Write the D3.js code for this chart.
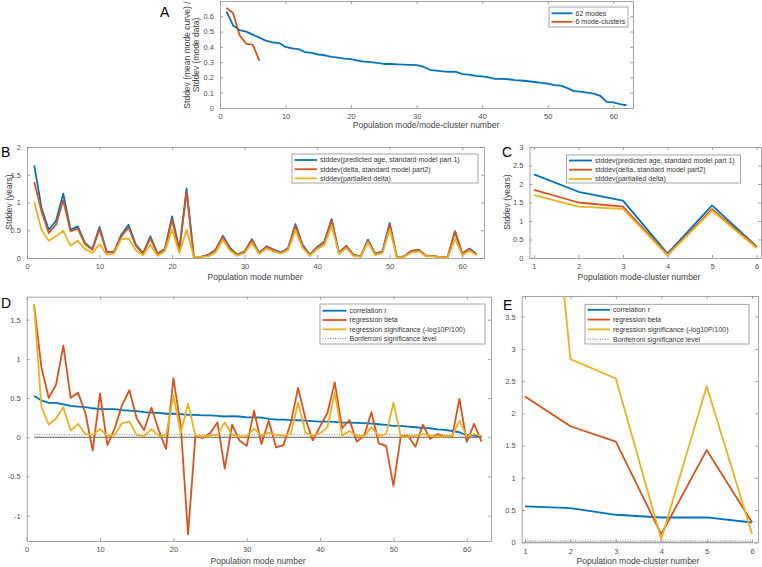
<!DOCTYPE html>
<html>
<head>
<meta charset="utf-8">
<script src="https://cdn.jsdelivr.net/npm/d3@7/dist/d3.min.js"></script>
<style>
body { margin: 0; background: #fff; }
text { font-family: "Liberation Sans", Arial, sans-serif; }
</style>
</head>
<body>
<div id="chart"></div>
<script>
// ---- data ----
// A: stddev ratio
var aModes = [0.63,0.54,0.51,0.50,0.48,0.46,0.44,0.43,0.425,0.40,
  0.39,0.385,0.365,0.36,0.35,0.345,0.335,0.33,0.323,0.32,
  0.31,0.303,0.30,0.295,0.288,0.288,0.286,0.284,0.282,0.28,
  0.27,0.25,0.245,0.24,0.237,0.236,0.222,0.218,0.21,0.207,
  0.2,0.19,0.19,0.188,0.183,0.18,0.175,0.17,0.164,0.16,
  0.15,0.146,0.13,0.11,0.107,0.10,0.094,0.08,0.04,0.037,0.026,0.018];
var aClusters = [0.655,0.62,0.475,0.42,0.415,0.31];

// B: stddev per mode
var bPred = [1.67,0.9,0.51,0.67,1.16,0.51,0.57,0.27,0.16,0.56,
  0.11,0.11,0.42,0.6,0.24,0.09,0.39,0.08,0.16,0.75,
  0.16,1.25,0.02,0.02,0.06,0.15,0.4,0.18,0.06,0.12,
  0.34,0.09,0.21,0.15,0.1,0.18,0.61,0.24,0.06,0.2,
  0.3,0.7,0.09,0.22,0.06,0.03,0.33,0.08,0.12,0.63,
  0.01,0.03,0.13,0.15,0.04,0.04,0.01,0.02,0.48,0.08,0.17,0.07];
var bDelta = [1.37,0.84,0.45,0.6,1.04,0.48,0.53,0.25,0.15,0.52,
  0.1,0.1,0.39,0.55,0.22,0.08,0.36,0.07,0.15,0.69,
  0.13,1.19,0.02,0.02,0.05,0.14,0.38,0.16,0.05,0.11,
  0.32,0.08,0.2,0.14,0.09,0.17,0.58,0.22,0.05,0.19,
  0.28,0.68,0.08,0.21,0.05,0.03,0.31,0.07,0.11,0.6,
  0.01,0.03,0.12,0.14,0.04,0.04,0.01,0.02,0.48,0.07,0.16,0.06];
var bPartial = [1.01,0.51,0.31,0.39,0.49,0.22,0.31,0.16,0.09,0.25,
  0.06,0.08,0.34,0.35,0.14,0.05,0.24,0.04,0.12,0.51,
  0.09,0.51,0.02,0.02,0.03,0.1,0.33,0.13,0.04,0.09,
  0.27,0.07,0.17,0.12,0.08,0.14,0.5,0.18,0.04,0.16,
  0.24,0.58,0.07,0.18,0.04,0.02,0.28,0.05,0.09,0.52,
  0.01,0.02,0.1,0.12,0.03,0.03,0.01,0.01,0.35,0.05,0.13,0.05];

// C: stddev per mode-cluster
var cPred = [2.26,1.79,1.55,0.12,1.42,0.31];
var cDelta = [1.84,1.5,1.39,0.09,1.32,0.3];
var cPartial = [1.7,1.39,1.33,0.07,1.28,0.27];

// D: association per mode
var dCorr = [0.53,0.47,0.44,0.44,0.42,0.40,0.39,0.385,0.37,0.36,
  0.36,0.36,0.345,0.34,0.333,0.32,0.315,0.31,0.30,0.30,
  0.295,0.285,0.285,0.28,0.28,0.272,0.265,0.27,0.265,0.255,
  0.255,0.25,0.235,0.226,0.226,0.22,0.217,0.213,0.205,0.2,
  0.2,0.196,0.187,0.187,0.183,0.18,0.175,0.166,0.158,0.145,
  0.145,0.136,0.128,0.12,0.115,0.102,0.094,0.08,0.064,0.026,0.02,0.008];
var dBeta = [1.69,0.895,0.5,0.67,1.17,0.5,0.57,0.31,-0.17,0.56,
  -0.1,0.115,0.41,0.6,0.24,0.09,0.38,0.09,-0.15,0.75,
  0.15,-1.24,0.02,-0.01,0.05,0.19,-0.4,0.16,-0.04,-0.11,
  0.34,-0.085,0.21,-0.13,-0.1,0.18,0.63,0.24,-0.04,0.14,
  0.31,0.7,0.115,0.22,-0.055,0.02,0.32,-0.077,-0.11,-0.62,
  0.01,0.02,-0.12,0.16,-0.02,0.04,0.01,0.01,0.49,-0.06,0.17,-0.055];
var dSig = [1.7,0.39,0.16,0.24,0.38,0.085,0.17,0.04,0.03,0.105,
  0.02,0.03,0.18,0.2,0.03,0.015,0.105,0.02,0.02,0.53,
  0.05,0.43,0.02,0.01,0.02,0.03,0.19,0.03,0.01,0.015,
  0.11,0.02,0.06,0.03,0.02,0.04,0.44,0.06,0.02,0.05,
  0.13,0.57,0.02,0.08,0.02,0.01,0.13,0.02,0.04,0.44,
  0.01,0.01,0.02,0.04,0.02,0.01,0.01,0.02,0.21,0.01,0.04,0.02];
var dBonf = 0.035;

// E: association per mode-cluster
var eCorr = [0.557,0.53,0.427,0.385,0.385,0.307];
var eBeta = [2.26,1.80,1.56,0.125,1.43,0.31];
var eSig = [9.95,2.84,2.54,0.047,2.42,0.125];
var eBonf = 0.021;

var legA = ["62 modes", "6 mode-clusters"];
var legBC = ["stddev(predicted age, standard model part 1)", "stddev(delta, standard model part2)", "stddev(partialled delta)"];
var legDE = ["correlation r", "regression beta", "regression significance (-log10P/100)", "Bonferroni significance level"];

// ---- drawing ----
var W = 762, H = 567;
var blue = "#0072BD", red = "#D95319", gold = "#EDB120";
var axisCol = "#8c8c8c", tickTxt = "#4d4d4d";

var svg = d3.select("#chart").append("svg")
   .attr("width", W)
   .attr("height", H);
svg.append("rect").attr("width", W).attr("height", H).attr("fill", "#fff");

function panel(p) {
   var x = d3.scaleLinear().domain(p.xd).range([p.l, p.r]);
   var y = d3.scaleLinear().domain(p.yd).range([p.b, p.t]);
   var g = svg.append("g");

   svg.append("clipPath").attr("id", "clip" + p.name)
      .append("rect")
      .attr("x", p.l).attr("y", p.t)
      .attr("width", p.r - p.l).attr("height", p.b - p.t);

   var fmt = function(d) { return String(d); };
   var axes = [
      [d3.axisBottom(x).tickValues(p.xt).tickFormat(fmt), "translate(0," + p.b + ")"],
      [d3.axisTop(x).tickValues(p.xt).tickFormat(""), "translate(0," + p.t + ")"],
      [d3.axisLeft(y).tickValues(p.yt).tickFormat(fmt), "translate(" + p.l + ",0)"],
      [d3.axisRight(y).tickValues(p.yt).tickFormat(""), "translate(" + p.r + ",0)"]
   ];
   axes.forEach(function(a) {
      var ax = g.append("g").attr("transform", a[1])
         .call(a[0].tickSizeInner(-3).tickSizeOuter(0).tickPadding(6));
      ax.select(".domain").attr("stroke", axisCol).attr("stroke-width", 0.8);
      ax.selectAll(".tick line").attr("stroke", axisCol).attr("stroke-width", 0.8);
      ax.selectAll("text").attr("fill", tickTxt).attr("font-size", "7.5px")
         .attr("font-family", "'Liberation Sans', Arial, sans-serif");
   });

   var line = d3.line()
      .x(function(d, i) { return x(i + 1); })
      .y(function(d) { return y(d); });

   var lines = g.append("g").attr("clip-path", "url(#clip" + p.name + ")");
   (p.refs || []).forEach(function(r) {
      lines.append("line")
         .attr("x1", x(r.from)).attr("x2", x(r.to))
         .attr("y1", y(r.v)).attr("y2", y(r.v))
         .attr("stroke", r.color)
         .attr("stroke-width", r.w)
         .attr("stroke-dasharray", r.dash || null);
   });
   p.series.forEach(function(s) {
      lines.append("path")
         .datum(s.data)
         .attr("d", line)
         .attr("fill", "none")
         .attr("stroke", s.color)
         .attr("stroke-width", s.w || 1.8)
         .attr("stroke-linejoin", "round");
   });

   // axis labels
   g.append("text")
      .attr("x", p.xlab[1]).attr("y", p.xlab[2])
      .attr("text-anchor", "middle")
      .attr("font-size", "8.5px")
      .attr("fill", "#404040")
      .text(p.xlab[0]);
   (p.ylab || []).forEach(function(yl) {
      g.append("text")
         .attr("transform", "translate(" + yl[1] + "," + yl[2] + ") rotate(-90)")
         .attr("text-anchor", "middle")
         .attr("font-size", "8.5px")
         .attr("fill", "#404040")
         .text(yl[0]);
   });

   // panel letter
   g.append("text")
      .attr("x", p.letter[1]).attr("y", p.letter[2])
      .attr("font-size", "14px")
      .attr("fill", "#000")
      .text(p.letter[0]);

   // legend
   var lg = p.legend;
   var lgG = g.append("g");
   lgG.append("rect")
      .attr("x", lg.x).attr("y", lg.y)
      .attr("width", lg.w).attr("height", lg.h)
      .attr("fill", "#fff")
      .attr("stroke", axisCol)
      .attr("stroke-width", 0.8);
   lg.items.forEach(function(it, i) {
      var yy = lg.y + lg.first + i * lg.step;
      lgG.append("line")
         .attr("x1", lg.x + 2.5).attr("x2", lg.x + 2.5 + lg.len)
         .attr("y1", yy).attr("y2", yy)
         .attr("stroke", it.color)
         .attr("stroke-width", it.dash ? 0.8 : 1.8)
         .attr("stroke-dasharray", it.dash || null);
      lgG.append("text")
         .attr("x", lg.x + 5.5 + lg.len).attr("y", yy)
         .attr("dy", "0.35em")
         .attr("font-size", "7px")
         .attr("fill", "#333")
         .text(it.label);
   });
}

panel({
   name: "A", l: 220, r: 633, t: 1, b: 108,
   xd: [0, 63], yd: [0, 0.7],
   xt: [0, 10, 20, 30, 40, 50, 60], yt: [0, 0.1, 0.2, 0.3, 0.4, 0.5, 0.6],
   series: [{data: aModes, color: blue}, {data: aClusters, color: red}],
   xlab: ["Population mode/mode-cluster number", 426, 128],
   ylab: [["Stddev (mean mode curve) /", 189.5, 55], ["Stddev (mode data)", 198.5, 55]],
   letter: ["A", 160, 17],
   legend: {x: 549, y: 7, w: 79, h: 20, len: 21, first: 6.3, step: 8.5,
      items: [{label: legA[0], color: blue}, {label: legA[1], color: red}]}
});

panel({
   name: "B", l: 27, r: 484, t: 147, b: 258,
   xd: [0, 63], yd: [0, 2],
   xt: [0, 10, 20, 30, 40, 50, 60], yt: [0, 0.5, 1, 1.5, 2],
   series: [{data: bPred, color: blue}, {data: bDelta, color: red}, {data: bPartial, color: gold}],
   xlab: ["Population mode number", 255, 280],
   ylab: [["Stddev (years)", 12, 202]],
   letter: ["B", 1, 157],
   legend: {x: 292, y: 154, w: 186, h: 29, len: 22.5, first: 6, step: 9.2,
      items: [{label: legBC[0], color: blue}, {label: legBC[1], color: red}, {label: legBC[2], color: gold}]}
});

panel({
   name: "C", l: 529.5, r: 761, t: 147, b: 258,
   xd: [0.9, 6.1], yd: [0, 3],
   xt: [1, 2, 3, 4, 5, 6], yt: [0, 0.5, 1, 1.5, 2, 2.5, 3],
   series: [{data: cPred, color: blue}, {data: cDelta, color: red}, {data: cPartial, color: gold}],
   xlab: ["Population mode-cluster number", 639, 280],
   ylab: [["Stddev (years)", 510, 202]],
   letter: ["C", 502, 157],
   legend: {x: 566.5, y: 155, w: 174, h: 28, len: 23, first: 5.5, step: 9.2,
      items: [{label: legBC[0], color: blue}, {label: legBC[1], color: red}, {label: legBC[2], color: gold}]}
});

panel({
   name: "D", l: 26.7, r: 491, t: 296.7, b: 541,
   xd: [0, 63.3], yd: [-1.323, 1.793],
   xt: [0, 10, 20, 30, 40, 50, 60], yt: [-1, -0.5, 0, 0.5, 1, 1.5],
   refs: [{v: 0, from: 1, to: 62, color: "#333", w: 0.8},
          {v: dBonf, from: 1, to: 62, color: "#777", w: 0.8, dash: "1,1.5"}],
   series: [{data: dCorr, color: blue}, {data: dBeta, color: red}, {data: dSig, color: gold}],
   xlab: ["Population mode number", 258, 564],
   letter: ["D", 1, 308],
   legend: {x: 320, y: 304, w: 165, h: 40, len: 24, first: 6.7, step: 9.3,
      items: [{label: legDE[0], color: blue}, {label: legDE[1], color: red},
              {label: legDE[2], color: gold}, {label: legDE[3], color: "#555", dash: "1,1.5"}]}
});

panel({
   name: "E", l: 521.7, r: 758, t: 296, b: 542.3,
   xd: [0.927, 6.13], yd: [0, 3.82],
   xt: [1, 2, 3, 4, 5, 6], yt: [0, 0.5, 1, 1.5, 2, 2.5, 3, 3.5],
   refs: [{v: 0, from: 1, to: 6, color: "#333", w: 0.8},
          {v: eBonf, from: 1, to: 6, color: "#777", w: 0.8, dash: "1,1.5"}],
   series: [{data: eCorr, color: blue}, {data: eBeta, color: red}, {data: eSig, color: gold}],
   xlab: ["Population mode-cluster number", 638, 564],
   letter: ["E", 503, 310],
   legend: {x: 585, y: 304.3, w: 164, h: 39.7, len: 22.5, first: 5.5, step: 9.8,
      items: [{label: legDE[0], color: blue}, {label: legDE[1], color: red},
              {label: legDE[2], color: gold}, {label: legDE[3], color: "#555", dash: "1,1.5"}]}
});
</script>
</body>
</html>
